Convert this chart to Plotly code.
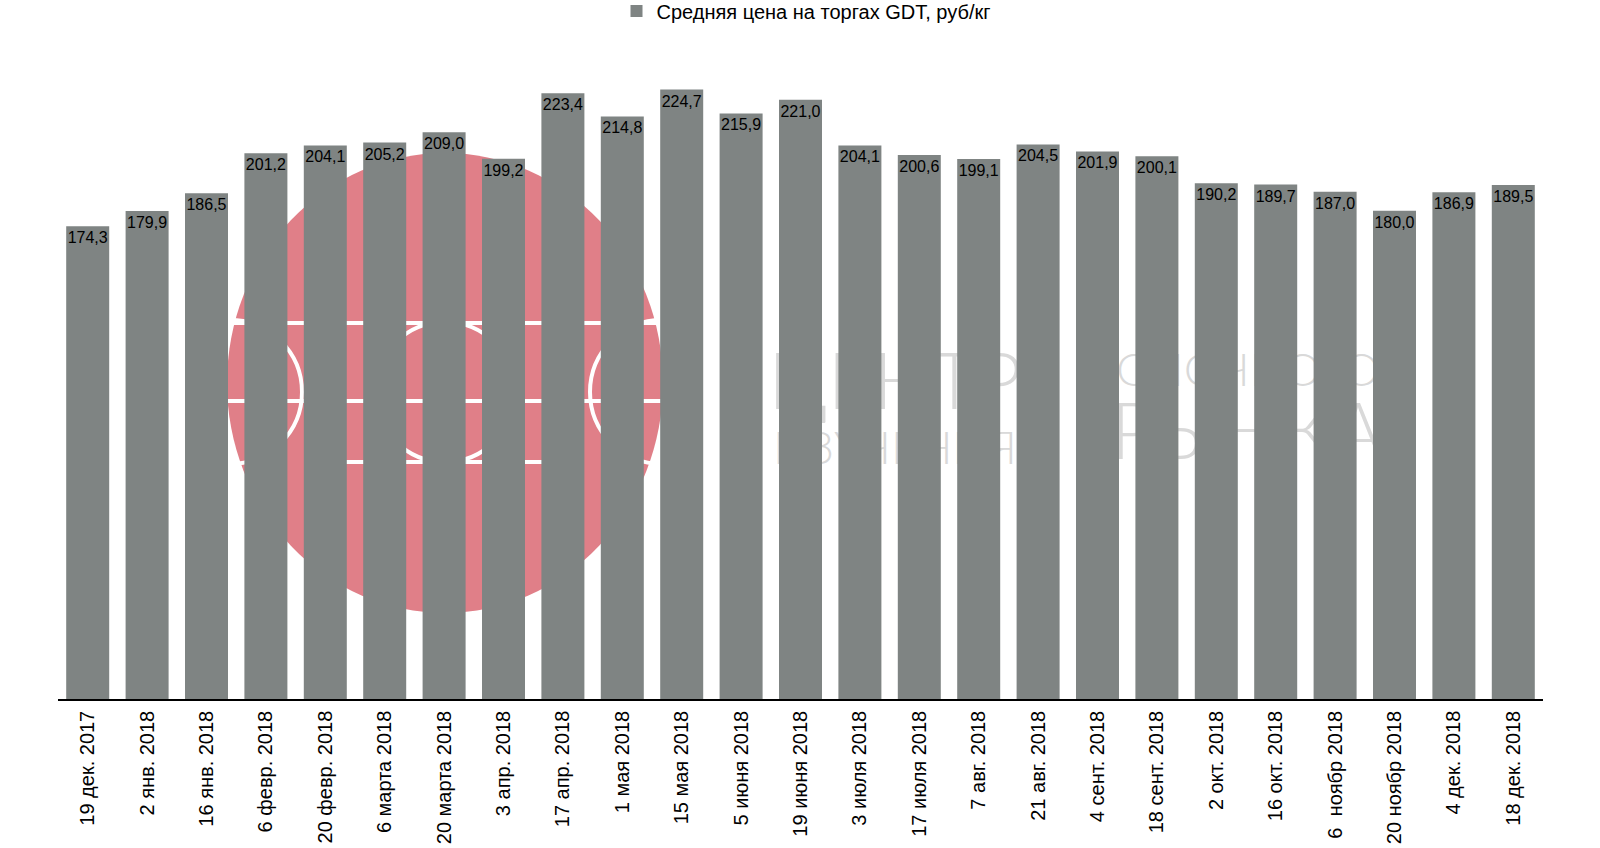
import plotly.graph_objects as go

dates = ["19 дек. 2017", "2 янв. 2018", "16 янв. 2018", "6 февр. 2018", "20 февр. 2018",
         "6 марта 2018", "20 марта 2018", "3 апр. 2018", "17 апр. 2018", "1 мая 2018",
         "15 мая 2018", "5 июня 2018", "19 июня 2018", "3 июля 2018", "17 июля 2018",
         "7 авг. 2018", "21 авг. 2018", "4 сент. 2018", "18 сент. 2018", "2 окт. 2018",
         "16 окт. 2018", "6\u00a0 ноябр 2018", "20 ноябр 2018", "4 дек. 2018", "18 дек. 2018"]
prices = [174.3, 179.9, 186.5, 201.2, 204.1, 205.2, 209.0, 199.2, 223.4, 214.8,
          224.7, 215.9, 221.0, 204.1, 200.6, 199.1, 204.5, 201.9, 200.1, 190.2,
          189.7, 187.0, 180.0, 186.9, 189.5]
series_name = "Средняя цена на торгах GDT, руб/кг"

W, H = 1600, 848
ML, MR, MT, MB = 58, 57, 21, 149
PW, PH = W - ML - MR, H - MT - MB

def px(x):
    return (x - ML) / PW

def py(y):
    return (H - MB - y) / PH

FONT = "Liberation Sans, Arial, Helvetica, sans-serif"
labels = [f"{v:.1f}".replace(".", ",") for v in prices]
xs = list(range(len(prices)))

fig = go.Figure()
fig.add_trace(go.Bar(
    x=xs, y=prices, name=series_name,
    marker=dict(color="#7f8483", line=dict(width=0)),
    text=labels, textposition="inside", insidetextanchor="end",
    textangle=0, constraintext="none",
    textfont=dict(family=FONT, size=16, color="#000000"),
    hoverinfo="x+y", showlegend=True,
))

shapes = []
# watermark: pink disc
shapes.append(dict(type="circle", xref="paper", yref="paper", layer="below",
                   x0=px(227), x1=px(663), y0=py(613), y1=py(153),
                   fillcolor="#e07f88", line=dict(width=0)))
# white logo strokes
for (cx, cy, r) in [(230, 392, 72), (445, 392, 70), (662, 392, 72)]:
    shapes.append(dict(type="circle", xref="paper", yref="paper", layer="below",
                       x0=px(cx - r), x1=px(cx + r), y0=py(cy + r), y1=py(cy - r),
                       fillcolor="rgba(0,0,0,0)", line=dict(color="white", width=4)))
for yy, xa, xb in [(323, 227, 663), (401, 227, 663), (462, 330, 560)]:
    shapes.append(dict(type="line", xref="paper", yref="paper", layer="below",
                       x0=px(xa), x1=px(xb), y0=py(yy), y1=py(yy),
                       line=dict(color="white", width=4)))
# pink divider line
shapes.append(dict(type="line", xref="paper", yref="paper", layer="below",
                   x0=px(1058), x1=px(1058), y0=py(480), y1=py(326),
                   line=dict(color="#e07f88", width=1.5)))
# watermark texts as shape labels (kept below bars)
wm = [("ЦЕНТР", 895, 378, 78, 271), ("ИЗУЧЕНИЯ", 895, 445, 46, 271),
      ("МОЛОЧНОГО", 1227, 367, 46, 290), ("РЫНКА", 1247, 428, 78, 250)]
for txt, cx, cy, fs, w in wm:
    shapes.append(dict(type="rect", xref="paper", yref="paper", layer="below",
                       x0=px(cx - w / 2), x1=px(cx + w / 2), y0=py(cy + fs / 2), y1=py(cy - fs / 2),
                       fillcolor="rgba(0,0,0,0)", line=dict(width=0),
                       label=dict(text=txt, textposition="middle center",
                                  font=dict(family="Lato, Noto Sans, sans-serif", size=fs,
                                            color="#d9d9d9", weight=300))))

fig.update_layout(
    width=W, height=H, autosize=False,
    margin=dict(l=ML, r=MR, t=MT, b=MB, pad=0, autoexpand=False),
    paper_bgcolor="white", plot_bgcolor="rgba(0,0,0,0)",
    bargap=0.276,
    font=dict(family=FONT, color="#000000"),
    shapes=shapes,
    showlegend=True,
    legend=dict(orientation="h", xref="paper", yref="paper",
                x=px(806), xanchor="center", y=1 + 10 / PH, yanchor="middle",
                font=dict(family=FONT, size=20, color="#000000"),
                bgcolor="rgba(0,0,0,0)"),
    xaxis=dict(range=[-0.5, len(prices) - 0.5], tickmode="array", tickvals=xs, ticktext=dates,
               tickangle=-90, tickfont=dict(family=FONT, size=20, color="#000000"),
               showline=True, linecolor="#000000", linewidth=1.5,
               ticks="outside", ticklen=2, tickcolor="rgba(0,0,0,0)",
               showgrid=False, zeroline=False, fixedrange=True, automargin=False),
    yaxis=dict(range=[0, 250], visible=False, showgrid=False, zeroline=False, fixedrange=True,
               automargin=False),
)

fig.write_html("out.html")
